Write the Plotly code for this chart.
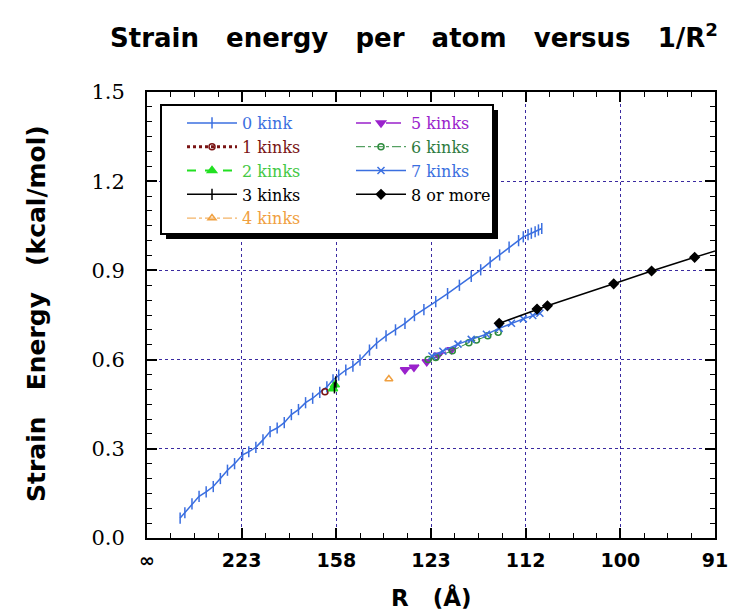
import plotly.graph_objects as go

# x values: 1/R^2 in units of 1e-5 1/Å^2 ; y: strain energy (kcal/mol)
x_kink0 = [0.70, 0.80, 0.95, 1.10, 1.25, 1.40, 1.55, 1.70, 1.85, 2.02, 2.15, 2.30, 2.45, 2.60,
           2.75, 2.90, 3.05, 3.20, 3.35, 3.50, 3.65, 3.80, 3.93, 4.05, 4.20, 4.35, 4.50, 4.70,
           4.85, 5.05, 5.25, 5.45, 5.65, 5.85, 6.10, 6.35, 6.60, 6.85, 7.05, 7.25, 7.45, 7.65,
           7.85, 7.95, 8.05, 8.12, 8.20, 8.27, 8.34]
y_kink0 = [0.067, 0.085, 0.115, 0.140, 0.155, 0.173, 0.200, 0.228, 0.250, 0.280, 0.290, 0.305,
           0.330, 0.358, 0.370, 0.388, 0.415, 0.432, 0.455, 0.470, 0.490, 0.508, 0.532, 0.548,
           0.565, 0.578, 0.598, 0.632, 0.655, 0.680, 0.700, 0.722, 0.748, 0.768, 0.795, 0.822,
           0.850, 0.880, 0.902, 0.928, 0.952, 0.978, 1.000, 1.013, 1.020, 1.025, 1.030, 1.036, 1.041]
x_kink1 = [3.76]
y_kink1 = [0.492]
x_kink2 = [3.93, 3.97]
y_kink2 = [0.502, 0.515]
x_kink3 = [3.96, 3.99]
y_kink3 = [0.505, 0.525]
x_kink4 = [5.11]
y_kink4 = [0.535]
x_kink5 = [5.45, 5.64, 5.91, 6.15, 6.43]
y_kink5 = [0.566, 0.574, 0.593, 0.615, 0.633]
x_kink6 = [5.94, 6.10, 6.45, 6.80, 6.96, 7.20, 7.42]
y_kink6 = [0.600, 0.607, 0.630, 0.657, 0.666, 0.680, 0.692]
x_kink7 = [6.02, 6.25, 6.57, 6.85, 7.17, 7.44, 7.70, 7.95, 8.15, 8.30]
y_kink7 = [0.612, 0.628, 0.652, 0.668, 0.685, 0.705, 0.722, 0.737, 0.748, 0.756]
x_kink8 = [7.44, 8.24, 8.46, 9.86, 10.66, 11.57, 12.40]
y_kink8 = [0.722, 0.770, 0.781, 0.855, 0.898, 0.944, 0.985]

x_tickvals = [0, 2, 4, 6, 8, 10, 12]
x_ticktext = ["∞", "223", "158", "123", "112", "100", "91"]
y_tickvals = [0.0, 0.3, 0.6, 0.9, 1.2, 1.5]
y_ticktext = ["0.0", "0.3", "0.6", "0.9", "1.2", "1.5"]

BLUE = "#3b6fe0"
series = [
    dict(name="0 kink", x=x_kink0, y=y_kink0, color=BLUE, text=BLUE, dash="solid", width=1.5,
         symbol="line-ns", size=8, legend="legend"),
    dict(name="1 kinks", x=x_kink1, y=y_kink1, color="#7a1414", text="#7a1414", dash="dot", width=3,
         symbol="circle-open", size=6, legend="legend"),
    dict(name="2 kinks", x=x_kink2, y=y_kink2, color="#22e022", text="#44c844", dash="dash", width=2,
         symbol="triangle-up", size=8, legend="legend"),
    dict(name="3 kinks", x=x_kink3, y=y_kink3, color="#000000", text="#000000", dash="solid", width=1.5,
         symbol="line-ns", size=8, legend="legend"),
    dict(name="4 kinks", x=x_kink4, y=y_kink4, color="#f0a040", text="#f0a040", dash="dashdot", width=1,
         symbol="triangle-up-open", size=7, legend="legend"),
    dict(name="5 kinks", x=x_kink5, y=y_kink5, color="#9a22cc", text="#9a22cc", dash="longdash", width=1.5,
         symbol="triangle-down", size=8, legend="legend2"),
    dict(name="6 kinks", x=x_kink6, y=y_kink6, color="#2e8b3e", text="#2e7b3e", dash="dashdot", width=1,
         symbol="circle-open", size=6, legend="legend2"),
    dict(name="7 kinks", x=x_kink7, y=y_kink7, color=BLUE, text=BLUE, dash="solid", width=1.5,
         symbol="x-thin", size=7, legend="legend2"),
    dict(name="8 or more", x=x_kink8, y=y_kink8, color="#000000", text="#000000", dash="solid", width=1.5,
         symbol="diamond", size=7, legend="legend2"),
]

fig = go.Figure()
for s in series:
    fig.add_trace(go.Scatter(
        x=s["x"], y=s["y"], mode="lines+markers",
        name=f'<span style="color:{s["text"]}">{s["name"]}</span>',
        line=dict(color=s["color"], width=s["width"], dash=s["dash"]),
        marker=dict(symbol=s["symbol"], size=s["size"], color=s["color"],
                    line=dict(color=s["color"], width=1.5)),
        legend=s["legend"], cliponaxis=True,
    ))

L, R, T, B = 147, 24, 92, 74
W, H = 739, 612
pw, ph = W - L - R, H - T - B

def px2paper_x(px):
    return (px - L) / pw

def px2paper_y(py):
    return (H - B - py) / ph

grid = dict(showgrid=True, gridcolor="#3a2aa0", griddash="dot", gridwidth=1)
fig.update_xaxes(range=[0, 12], tickvals=x_tickvals, ticktext=x_ticktext,
                 ticks="inside", ticklen=10, tickwidth=2, tickcolor="black",
                 minor=dict(dtick=0.5, ticks="inside", ticklen=5, tickwidth=1, tickcolor="black", showgrid=False),
                 showline=True, linecolor="black", linewidth=2, mirror="allticks",
                 zeroline=False, ticklabelstandoff=4,
                 tickfont=dict(family="DejaVu Sans", size=19, color="black", weight="bold"),
                 **grid)
fig.update_yaxes(range=[0, 1.5], tickvals=y_tickvals, ticktext=y_ticktext,
                 ticks="inside", ticklen=10, tickwidth=2, tickcolor="black",
                 minor=dict(dtick=0.05, ticks="inside", ticklen=5, tickwidth=1, tickcolor="black", showgrid=False),
                 showline=True, linecolor="black", linewidth=2, mirror="allticks",
                 zeroline=False, ticklabelstandoff=16,
                 tickfont=dict(family="DejaVu Serif", size=21, color="black"),
                 **grid)

legfont = dict(family="DejaVu Serif", size=16, color="black")
fig.update_layout(
    width=W, height=H,
    margin=dict(l=L, r=R, t=T, b=B),
    paper_bgcolor="white", plot_bgcolor="white",
    showlegend=True,
    legend=dict(x=px2paper_x(182), y=px2paper_y(106), xanchor="left", yanchor="top",
                bgcolor="rgba(0,0,0,0)", borderwidth=0, font=legfont, tracegroupgap=0,
                itemwidth=50),
    legend2=dict(x=px2paper_x(351), y=px2paper_y(106), xanchor="left", yanchor="top",
                 bgcolor="rgba(0,0,0,0)", borderwidth=0, font=legfont, tracegroupgap=0,
                 itemwidth=50),
    title=dict(text="Strain&nbsp;&nbsp; energy&nbsp;&nbsp; per&nbsp;&nbsp; atom&nbsp;&nbsp; versus&nbsp;&nbsp; 1/R<sup>2</sup>",
               x=414 / W, xanchor="center", y=1 - 38 / H, yanchor="middle",
               font=dict(family="DejaVu Sans", size=26, color="black", weight="bold")),
    shapes=[
        dict(type="rect", xref="paper", yref="paper", layer="above",
             x0=px2paper_x(166), x1=px2paper_x(498), y0=px2paper_y(239), y1=px2paper_y(110),
             fillcolor="black", line=dict(width=0)),
        dict(type="rect", xref="paper", yref="paper", layer="above",
             x0=px2paper_x(161), x1=px2paper_x(493), y0=px2paper_y(234), y1=px2paper_y(105),
             fillcolor="white", line=dict(color="black", width=2)),
    ],
    annotations=[
        dict(text="Strain&nbsp;&nbsp; Energy&nbsp;&nbsp; (kcal/mol)", xref="paper", yref="paper",
             x=px2paper_x(36), y=px2paper_y(314), textangle=-90, showarrow=False,
             xanchor="center", yanchor="middle",
             font=dict(family="DejaVu Sans", size=25, color="black", weight="bold")),
        dict(text="R&nbsp;&nbsp; (Å)", xref="paper", yref="paper",
             x=px2paper_x(431), y=px2paper_y(597), showarrow=False,
             xanchor="center", yanchor="middle",
             font=dict(family="DejaVu Sans", size=23, color="black", weight="bold")),
    ],
)

fig.write_html("out.html", config={"displayModeBar": False},
               post_script="document.body.style.margin='0';")
